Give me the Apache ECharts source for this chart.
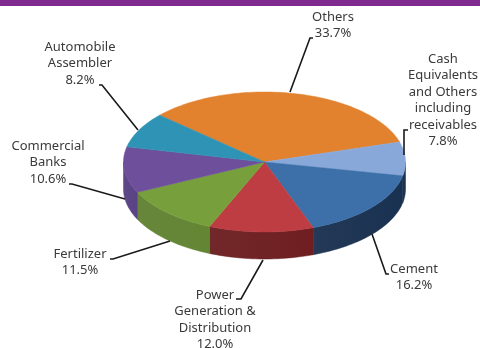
<!DOCTYPE html>
<html>
<head>
<meta charset="utf-8">
<style>html,body{margin:0;padding:0;background:#fff}#chart{width:480px;height:348px}</style>
<script src="https://cdn.jsdelivr.net/npm/echarts@6/dist/echarts.min.js"></script>
</head>
<body>
<div id="chart"></div>
<script>
// Portfolio allocation by sector, clockwise from the largest holding
const sectorNames = [
  'Others',
  'Cash\nEquivalents\nand Others\nincluding\nreceivables',
  'Cement',
  'Power\nGeneration &\nDistribution',
  'Fertilizer',
  'Commercial\nBanks',
  'Automobile\nAssembler'
];
const sectorShares = [33.7, 7.8, 16.2, 12.0, 11.5, 10.6, 8.2];

// Face and wall colours per sector
const faceColors = ['#e2812e', '#88a8da', '#3d70a8', '#bd3d43', '#77a03c', '#6d4f9b', '#2f93b5'];
const wallColors = ['#9c5616', '#182f4e', '#182f4e', '#6a1d1f', '#5f8031', '#563f80', '#1f6d88'];

// Label anchors (centre x, top of first row) and leader paths
const labelAnchors = [[333, 9], [443, 51], [414, 261], [215, 287], [80, 246], [48, 138], [80, 39]];
const leaderPaths = [
  [[313, 38], [310, 38], [290, 92]],
  [[408, 130], [404, 130], [404, 155]],
  [[389, 274], [386, 274], [372, 234]],
  [[236, 299], [241, 299], [263, 260]],
  [[110, 259], [113, 259], [170, 241]],
  [[69, 184], [72, 184], [125, 199]],
  [[99, 85], [102, 85], [138, 130]]
];

// Projected disc geometry
const disc = { cx: 264.5, cy: 162, rx: 141, ry: 70, depth: 27, startDeg: -138 };
const total = sectorShares.reduce((a, b) => a + b, 0);

function rim(deg, drop) {
  const t = deg * Math.PI / 180;
  return [disc.cx + disc.rx * Math.cos(t), disc.cy + disc.ry * Math.sin(t) + (drop || 0)];
}
function arc(a0, a1, drop) {
  const pts = [];
  const n = Math.max(2, Math.ceil(Math.abs(a1 - a0) / 1.5));
  for (let i = 0; i <= n; i++) pts.push(rim(a0 + (a1 - a0) * i / n, drop));
  return pts;
}
// Wall shading: darker toward the end of each slice's rim
function wallFill(color) {
  return new echarts.graphic.LinearGradient(0, 0, 1, 0, [
    { offset: 0, color: echarts.color.lift(color, 0.05) },
    { offset: 1, color: echarts.color.lift(color, -0.05) }
  ]);
}

function renderSector(params, api) {
  const i = params.dataIndex;
  const before = sectorShares.slice(0, i).reduce((a, b) => a + b, 0);
  const a0 = disc.startDeg + before / total * 360;
  const a1 = a0 + api.value(1) / total * 360;
  const children = [];

  // Front wall: only the part of the rim facing the viewer (0..180 degrees)
  const s = Math.max(a0, 0), e = Math.min(a1, 180);
  if (e > s) {
    children.push({
      type: 'polygon', z2: 1,
      shape: { points: arc(s, e, 0).concat(arc(e, s, disc.depth)) },
      style: { fill: wallFill(wallColors[i]), stroke: wallColors[i], lineWidth: 0.5 }
    });
  }

  // Top face
  children.push({
    type: 'polygon', z2: 2,
    shape: { points: [[disc.cx, disc.cy]].concat(arc(a0, a1, 0)) },
    style: { fill: faceColors[i], stroke: faceColors[i], lineWidth: 0.5 }
  });

  // Leader line
  children.push({
    type: 'polyline', z2: 3,
    shape: { points: leaderPaths[i] },
    style: { fill: null, stroke: '#1a1a1a', lineWidth: 1.6 }
  });

  // Label: name lines followed by the share
  children.push({
    type: 'text', z2: 4,
    style: {
      x: labelAnchors[i][0], y: labelAnchors[i][1],
      text: sectorNames[i] + '\n' + api.value(1).toFixed(1) + '%',
      fill: '#3a3a3a', font: '13px "Noto Sans"',
      align: 'center', verticalAlign: 'top', lineHeight: 16.5
    }
  });
  return { type: 'group', children };
}

const chart = echarts.init(document.getElementById('chart'), null, { renderer: 'canvas' });
chart.setOption({
  animation: false,
  graphic: [{
    type: 'rect', z: 10,
    shape: { x: 0, y: 0, width: 480, height: 6 },
    style: { fill: '#7f2a8e' }
  }],
  series: [{
    type: 'custom',
    coordinateSystem: 'none',
    renderItem: renderSector,
    data: sectorShares.map((v, i) => [i, v]),
    encode: { value: 1 },
    clip: false
  }]
});
</script>
</body>
</html>
